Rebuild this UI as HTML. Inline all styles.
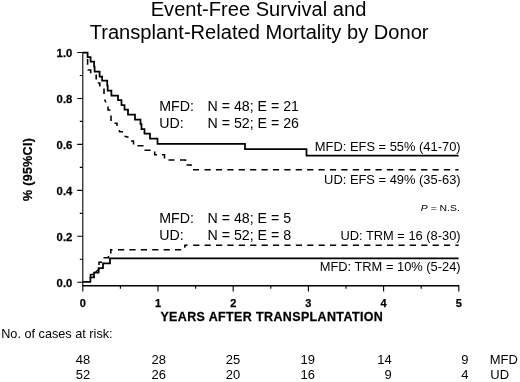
<!DOCTYPE html>
<html><head><meta charset="utf-8">
<style>
html,body{margin:0;padding:0;background:#fff;}
svg{display:block;}
text{font-family:"Liberation Sans",Arial,Helvetica,sans-serif;fill:#000;}
.b{font-weight:bold;stroke:#000;stroke-width:0.25px;}
</style></head>
<body>
<svg width="520" height="382" viewBox="0 0 520 382">
<rect width="520" height="382" fill="#fff"/>

<text text-anchor="middle" font-size="19.33" transform="translate(258.5 16.4) scale(1.04 1)">Event-Free Survival and</text>
<text text-anchor="middle" font-size="19.33" transform="translate(259.1 39.1) scale(1.04 1)">Transplant-Related Mortality by Donor</text>
<g stroke="#000" stroke-width="1.1" fill="none">
<path d="M82.8 52.5V291.5"/>
<path d="M82.3 285.8H459.2" stroke-width="1.45"/>
<path d="M77.2 52.5H82.8M77.2 98.5H82.8M77.2 144.4H82.8M77.2 190.4H82.8M77.2 236.3H82.8M77.2 282.3H82.8"/>
<path d="M79.8 75.5H82.8M79.8 121.4H82.8M79.8 167.4H82.8M79.8 213.4H82.8M79.8 259.3H82.8"/>
<path d="M158 285.8V291.5M233.2 285.8V291.5M308.4 285.8V291.5M383.6 285.8V291.5M458.8 285.8V291.5"/>
<path d="M120.4 285.8V288.8M195.6 285.8V288.8M270.8 285.8V288.8M346 285.8V288.8M421.2 285.8V288.8"/>
</g>
<text class="b" text-anchor="end" font-size="10.97" transform="translate(72.3 56.8) scale(1.03 1)">1.0</text>
<text class="b" text-anchor="end" font-size="10.97" transform="translate(72.3 102.8) scale(1.03 1)">0.8</text>
<text class="b" text-anchor="end" font-size="10.97" transform="translate(72.3 148.7) scale(1.03 1)">0.6</text>
<text class="b" text-anchor="end" font-size="10.97" transform="translate(72.3 194.7) scale(1.03 1)">0.4</text>
<text class="b" text-anchor="end" font-size="10.97" transform="translate(72.3 240.6) scale(1.03 1)">0.2</text>
<text class="b" text-anchor="end" font-size="10.97" transform="translate(72.3 286.6) scale(1.03 1)">0.0</text>
<text class="b" text-anchor="middle" font-size="11.00" transform="translate(82.8 307.3) scale(1.0 1)">0</text>
<text class="b" text-anchor="middle" font-size="11.00" transform="translate(158 307.3) scale(1.0 1)">1</text>
<text class="b" text-anchor="middle" font-size="11.00" transform="translate(233.2 307.3) scale(1.0 1)">2</text>
<text class="b" text-anchor="middle" font-size="11.00" transform="translate(308.4 307.3) scale(1.0 1)">3</text>
<text class="b" text-anchor="middle" font-size="11.00" transform="translate(383.6 307.3) scale(1.0 1)">4</text>
<text class="b" text-anchor="middle" font-size="11.00" transform="translate(458.8 307.3) scale(1.0 1)">5</text>
<text class="b" letter-spacing="0.359" font-size="12.14" transform="translate(160.4 321) scale(1.03 1)">YEARS AFTER TRANSPLANTATION</text>
<text class="b" font-size="12.5" letter-spacing="0.3" transform="translate(32 201) rotate(-90)">% (95%CI)</text>
<g stroke="#000" stroke-width="1.75" fill="none" stroke-linejoin="miter">
<path d="M82.8 52.7H87.6V57.2H90.6V61.7H94.1V66.6H94.6V71.6H99.6V76.5H102.1V80.5H107.2V85.5H107.7V90.5H111.4V95.5H118V100H121.5V105H124.5V109.5H128V114.5H135V119.5H140.5V124H141.5V129H144.5V133.5H150V138.5H157.5V143.8H245V149.2H306.5V155.7H458.6"/>
<path d="M82.8 281.8H90.4V277.3H94V272.7H98.6V268.2H103V263.4H110V258.4H458.6"/>
</g>
<g stroke="#000" stroke-width="1.55" fill="none">
<path d="M87.6 59V64.7M87.6 70H90.7V73.3M96.2 74.5V79.4M97.7 83H99.8V86.5M104 88.5V94M104.5 99.5L106 102.5M108 106.5V110H110.5M111 115.5V121M114.5 123.3H117V126M119.5 130V131.8H123M124.5 136.3L128.5 137.3M131 141H133.5V144.5M137.5 145.8H143.5M144.5 150.3H150.5M154.7 151.5V154.7H157M162 154.7H164.5V158.5M168.5 160H174.5M180 160H185.5V161M186.5 165H191V166M193 169.8H199"/>
<path d="M204.5 169.8H458.6" stroke-dasharray="6.2 5.2"/>
<path d="M90.5 274V278M90.5 274.5H94M95.5 272L99.5 269M99 265V262.2H102M103.5 257.8H108.5V256M110.8 253.5V249.8H112.5"/>
<path d="M118 249.8H182.5" stroke-dasharray="6.2 5.2"/>
<path d="M184.9 247.8V245.3H187.5"/>
<path d="M193.2 245.3H458.6" stroke-dasharray="6.2 5.2"/>
</g>
<text font-size="14.20" transform="translate(159.2 111.1) scale(1.0 1)">MFD:</text>
<text font-size="14.20" transform="translate(207.5 111.1) scale(1.0 1)">N = 48; E = 21</text>
<text font-size="14.20" transform="translate(159.2 128.4) scale(1.0 1)">UD:</text>
<text font-size="14.20" transform="translate(207.5 128.4) scale(1.0 1)">N = 52; E = 26</text>
<text font-size="14.20" transform="translate(159.2 223.1) scale(1.0 1)">MFD:</text>
<text font-size="14.20" transform="translate(207.5 223.1) scale(1.0 1)">N = 48; E = 5</text>
<text font-size="14.20" transform="translate(159.2 239.9) scale(1.0 1)">UD:</text>
<text font-size="14.20" transform="translate(207.5 239.9) scale(1.0 1)">N = 52; E = 8</text>
<text text-anchor="end" font-size="12.90" transform="translate(460.6 151.0) scale(1.0 1)">MFD: EFS = 55% (41-70)</text>
<text text-anchor="end" font-size="12.90" transform="translate(460.6 184.2) scale(1.0 1)">UD: EFS = 49% (35-63)</text>
<text text-anchor="end" font-size="12.87" transform="translate(460.6 240.2) scale(1.0 1)">UD: TRM = 16 (8-30)</text>
<text text-anchor="end" font-size="12.87" transform="translate(460.6 271.1) scale(1.0 1)">MFD: TRM = 10% (5-24)</text>
<text text-anchor="end" font-size="9.45" transform="translate(459.8 211.4) scale(1.1 1)"><tspan font-style="italic">P</tspan> = N.S.</text>
<text font-size="12.70" transform="translate(1.2 338.3) scale(1.0 1)">No. of cases at risk:</text>
<text text-anchor="end" font-size="12.62" transform="translate(90.2 364.1) scale(1.03 1)">48</text>
<text text-anchor="end" font-size="12.62" transform="translate(165.9 364.1) scale(1.03 1)">28</text>
<text text-anchor="end" font-size="12.62" transform="translate(240.2 364.1) scale(1.03 1)">25</text>
<text text-anchor="end" font-size="12.62" transform="translate(315 364.1) scale(1.03 1)">19</text>
<text text-anchor="end" font-size="12.62" transform="translate(391.8 364.1) scale(1.03 1)">14</text>
<text text-anchor="end" font-size="12.62" transform="translate(468.6 364.1) scale(1.03 1)">9</text>
<text text-anchor="end" font-size="12.62" transform="translate(90.2 379.3) scale(1.03 1)">52</text>
<text text-anchor="end" font-size="12.62" transform="translate(165.9 379.3) scale(1.03 1)">26</text>
<text text-anchor="end" font-size="12.62" transform="translate(240.2 379.3) scale(1.03 1)">20</text>
<text text-anchor="end" font-size="12.62" transform="translate(315 379.3) scale(1.03 1)">16</text>
<text text-anchor="end" font-size="12.62" transform="translate(391.8 379.3) scale(1.03 1)">9</text>
<text text-anchor="end" font-size="12.62" transform="translate(468.6 379.3) scale(1.03 1)">4</text>
<text font-size="12.62" transform="translate(489.8 364.1) scale(1.03 1)">MFD</text>
<text font-size="12.62" transform="translate(490.3 379.3) scale(1.03 1)">UD</text>
</svg>
</body></html>
